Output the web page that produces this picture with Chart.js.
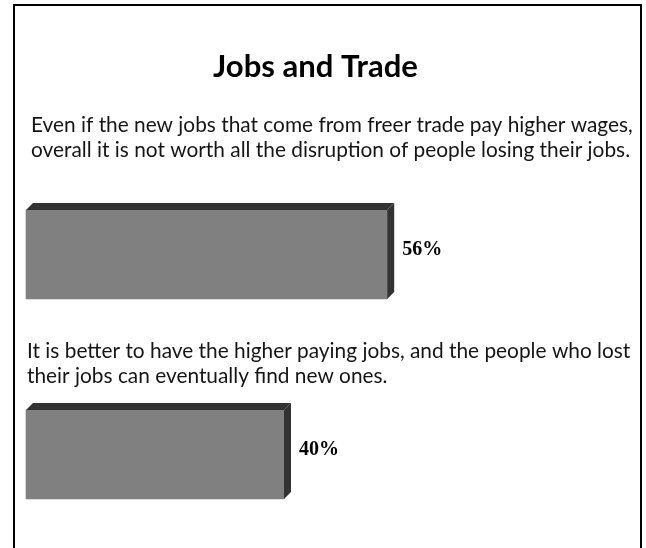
<!DOCTYPE html>
<html>
<head>
<meta charset="utf-8">
<script src="https://cdn.jsdelivr.net/npm/chart.js@4/dist/chart.umd.min.js"></script>
<style>
  html, body { margin: 0; padding: 0; background: #fff; overflow: hidden; }
  #wrap { width: 646px; height: 548px; }
</style>
</head>
<body>
<div id="wrap"><canvas id="chartJobs" width="646" height="548"></canvas></div>
<script>
const title = 'Jobs and Trade';
const categories = [
    ['Even if the new jobs that come from freer trade pay higher wages,',
     'overall it is not worth all the disruption of people losing their jobs.'],
    ['It is better to have the higher paying jobs, and the people who lost',
     'their jobs can eventually find new ones.']
];
const values = [56, 40];

const SANS = 'Lato, "Open Sans", sans-serif';
const SERIF = '"Liberation Serif", "Times New Roman", serif';
const DEPTH = 7;

// pick a font size so a line comes out at the given width
function fitSize(ctx, text, width, weight) {
    ctx.font = weight + ' 100px ' + SANS;
    return 100 * width / ctx.measureText(text).width;
}

const framePlugin = {
    id: 'frame',
    beforeDraw(chart) {
        const ctx = chart.ctx;
        ctx.save();
        ctx.fillStyle = '#fff';
        ctx.fillRect(0, 0, chart.width, chart.height);

        ctx.strokeStyle = '#000';
        ctx.lineWidth = 2;
        ctx.strokeRect(14, 5, 627, chart.height + 20);

        // heading
        const ts = fitSize(ctx, title, 205, 'bold');
        ctx.font = 'bold ' + ts + 'px ' + SANS;
        ctx.fillStyle = '#000';
        ctx.textBaseline = 'alphabetic';
        ctx.textAlign = 'left';
        ctx.fillText(title, 213, 77);

        // answer texts above each bar
        const ps = fitSize(ctx, categories[0][0], 602, 'normal');
        ctx.font = ps + 'px ' + SANS;
        ctx.fillStyle = '#151515';
        const blocks = [{x: 31, y: 132}, {x: 27, y: 358}];
        categories.forEach((lines, i) => {
            lines.forEach((line, j) => {
                ctx.fillText(line, blocks[i].x, blocks[i].y + j * 25);
            });
        });
        ctx.restore();
    }
};

const depthPlugin = {
    id: 'depth',
    afterDatasetsDraw(chart) {
        const ctx = chart.ctx;
        const meta = chart.getDatasetMeta(0);
        ctx.save();
        meta.data.forEach((bar, i) => {
            const p = bar.getProps(['x', 'y', 'base', 'height'], true);
            const x0 = p.base, x1 = p.x;
            const top = p.y - p.height / 2, bottom = p.y + p.height / 2;

            ctx.fillStyle = '#333333';
            ctx.beginPath();
            ctx.moveTo(x0, top);
            ctx.lineTo(x0 + DEPTH, top - DEPTH);
            ctx.lineTo(x1 + DEPTH, top - DEPTH);
            ctx.lineTo(x1, top);
            ctx.closePath();
            ctx.fill();

            ctx.beginPath();
            ctx.moveTo(x1, top);
            ctx.lineTo(x1 + DEPTH, top - DEPTH);
            ctx.lineTo(x1 + DEPTH, bottom - DEPTH);
            ctx.lineTo(x1, bottom);
            ctx.closePath();
            ctx.fill();

            ctx.fillStyle = '#000';
            ctx.font = 'bold 20px ' + SERIF;
            ctx.textAlign = 'left';
            ctx.textBaseline = 'alphabetic';
            ctx.fillText(values[i] + '%', x1 + 15, p.y);
        });
        ctx.restore();
    }
};

const ctxJobs = document.getElementById('chartJobs').getContext('2d');
const chartJobs = new Chart(ctxJobs, {
    type: 'bar',
    data: {
        labels: categories.map((c, i) => i),
        datasets: [{
            data: values,
            backgroundColor: '#808080',
            borderWidth: 0,
            barThickness: 89,
            clip: false
        }]
    },
    options: {
        indexAxis: 'y',
        responsive: false,
        animation: false,
        events: [],
        layout: {
            padding: {left: 26, right: 39.5, top: 254.5, bottom: 93.5}
        },
        scales: {
            x: {min: 0, max: 90, display: false},
            y: {type: 'category', offset: false, display: false}
        },
        plugins: {
            legend: {display: false},
            tooltip: {enabled: false}
        }
    },
    plugins: [framePlugin, depthPlugin]
});
</script>
</body>
</html>
